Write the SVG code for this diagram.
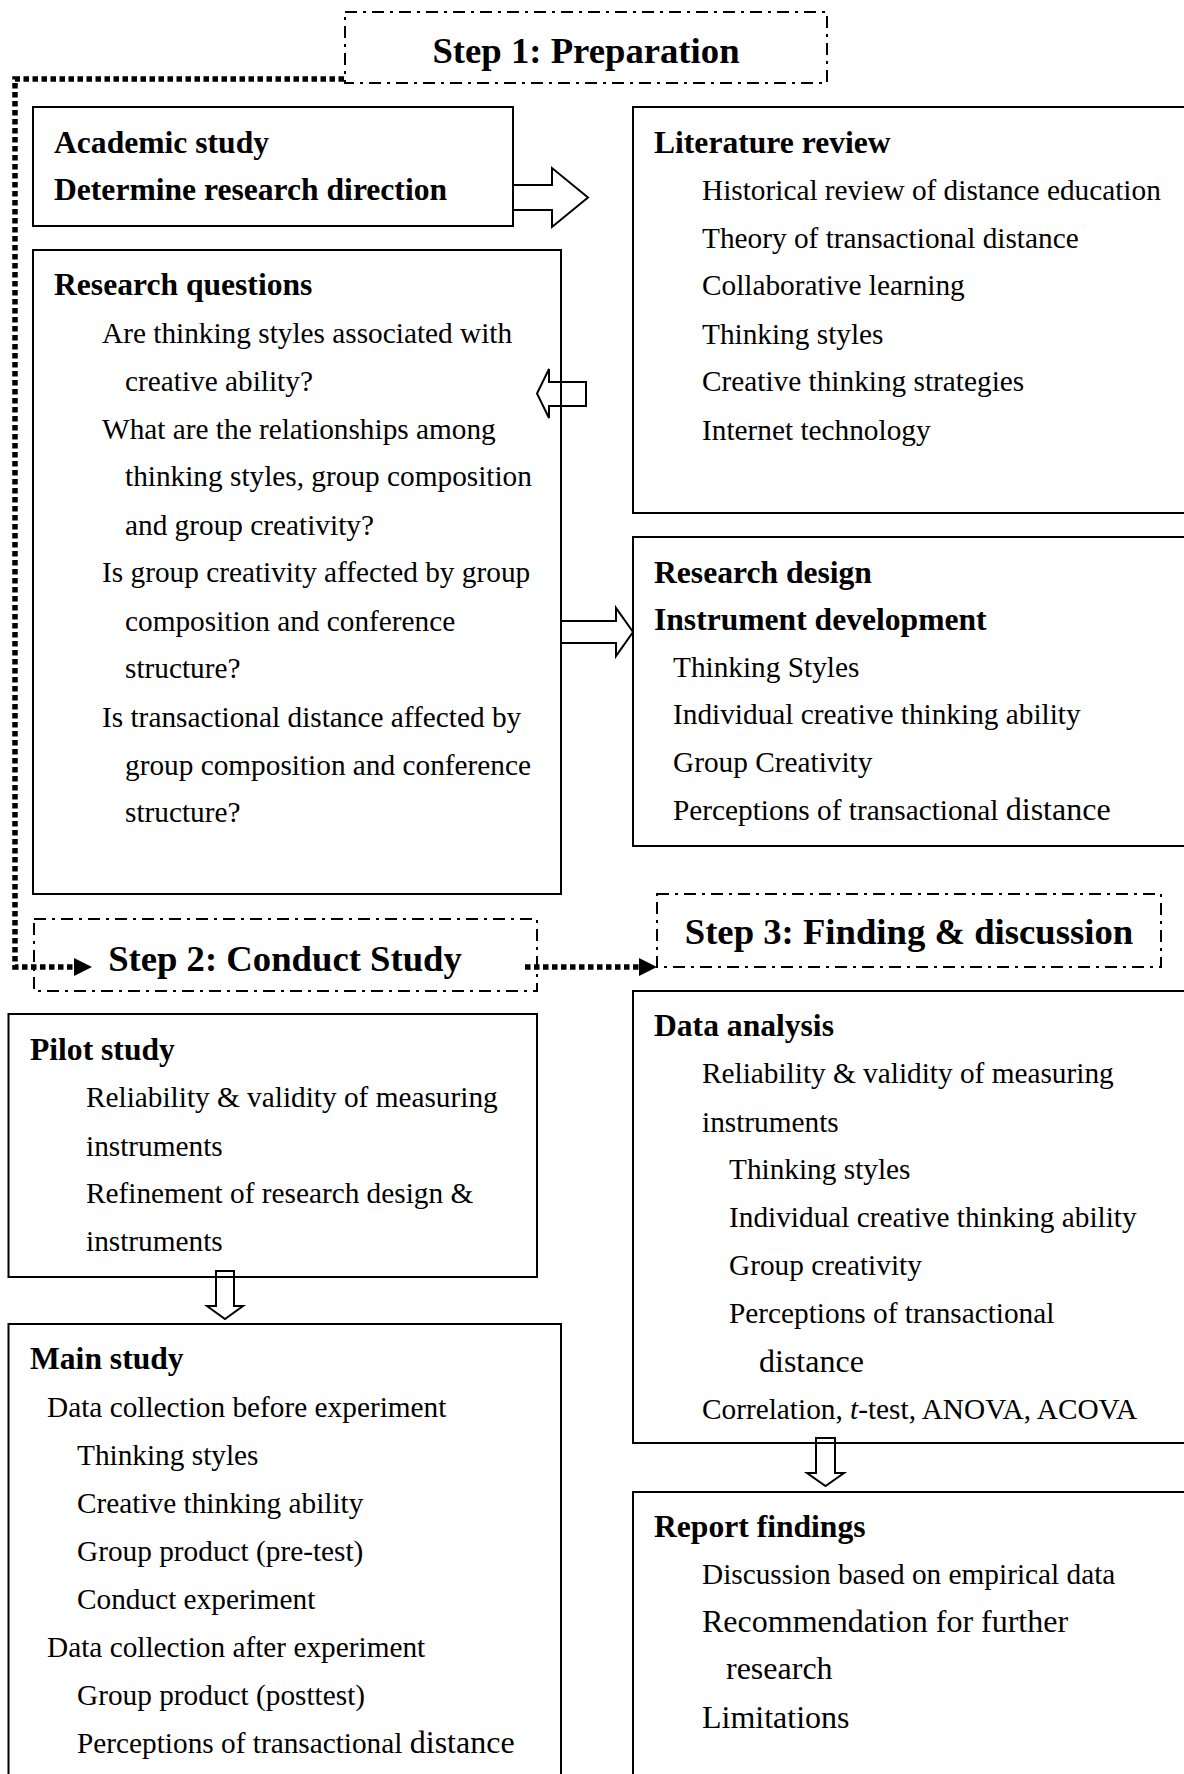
<svg xmlns="http://www.w3.org/2000/svg" width="1184" height="1774" viewBox="0 0 1184 1774">
<defs>
<style>
.box{fill:none;stroke:#000;stroke-width:2}
.step{fill:none;stroke:#000;stroke-width:2;stroke-dasharray:12 6 3 6}
.blk{fill:#fff;stroke:#000;stroke-width:2;stroke-linejoin:miter}
.dot{fill:none;stroke:#000;stroke-width:5.5;stroke-dasharray:5.5 3.5}
text{font-family:"Liberation Serif","Times New Roman",serif;fill:#000}
.r{font-size:29.3px}
.b{font-size:31.6px;font-weight:bold}
.s{font-size:36.7px;font-weight:bold;text-anchor:middle}
.L{font-size:32px}
</style>
</defs>
<rect x="0" y="0" width="1184" height="1774" fill="#fff"/>

<g id="connectors">
<path class="dot" d="M344,79 H15 V967 H74"/>
<path d="M74,958 L92,967 L74,976 Z" fill="#000"/>
<path class="dot" d="M525,967 H640"/>
<path d="M639,958 L657,967 L639,976 Z" fill="#000"/>
<polygon class="blk" points="513,185 552,185 552,168 588,197.5 552,227 552,210 513,210"/>
<polygon class="blk" points="586,382 549,382 549,369 537,393.5 549,418 549,406 586,406"/>
<polygon class="blk" points="561,621 616,621 616,608 633,632 616,656 616,643 561,643"/>
<polygon class="blk" points="216,1271 234,1271 234,1306 243,1306 225,1319 207,1306 216,1306"/>
<polygon class="blk" points="816,1438 835,1438 835,1473 844,1473 825.5,1486 807,1473 816,1473"/>
</g>

<g id="step1">
<rect class="step" x="345" y="12" width="482" height="71"/>
<text class="s" x="586" y="63">Step 1: Preparation</text>
</g>

<g id="academic">
<rect class="box" x="33" y="107" width="480" height="119"/>
<text class="b" x="54" y="153">Academic study</text>
<text class="b" x="54" y="200">Determine research direction</text>
</g>

<g id="questions">
<rect class="box" x="33" y="250" width="528" height="644"/>
<text class="b" x="54" y="295">Research questions</text>
<text class="r" x="102" y="343">Are thinking styles associated with</text>
<text class="r" x="125" y="391">creative ability?</text>
<text class="r" x="102" y="439">What are the relationships among</text>
<text class="r" x="125" y="486">thinking styles, group composition</text>
<text class="r" x="125" y="535">and group creativity?</text>
<text class="r" x="102" y="582">Is group creativity affected by group</text>
<text class="r" x="125" y="631">composition and conference</text>
<text class="r" x="125" y="678">structure?</text>
<text class="r" x="102" y="727">Is transactional distance affected by</text>
<text class="r" x="125" y="775">group composition and conference</text>
<text class="r" x="125" y="822">structure?</text>
</g>

<g id="literature">
<rect class="box" x="633" y="107" width="580" height="406"/>
<text class="b" x="654" y="153">Literature review</text>
<text class="r" x="702" y="200">Historical review of distance education</text>
<text class="r" x="702" y="248">Theory of transactional distance</text>
<text class="r" x="702" y="295">Collaborative learning</text>
<text class="r" x="702" y="344">Thinking styles</text>
<text class="r" x="702" y="391">Creative thinking strategies</text>
<text class="r" x="702" y="440">Internet technology</text>
</g>

<g id="design">
<rect class="box" x="633" y="537" width="580" height="309"/>
<text class="b" x="654" y="583">Research design</text>
<text class="b" x="654" y="630">Instrument development</text>
<text class="r" x="673" y="677">Thinking Styles</text>
<text class="r" x="673" y="724">Individual creative thinking ability</text>
<text class="r" x="673" y="772">Group Creativity</text>
<text class="r" x="673" y="820">Perceptions of transactional <tspan class="L">distance</tspan></text>
</g>

<g id="step2">
<rect class="step" x="34" y="919" width="503" height="72"/>
<text class="s" x="285" y="971">Step 2: Conduct Study</text>
</g>

<g id="step3">
<rect class="step" x="657" y="894" width="504" height="73"/>
<text class="s" x="909" y="944">Step 3: Finding &amp; discussion</text>
</g>

<g id="pilot">
<rect class="box" x="8.5" y="1014" width="528.5" height="263"/>
<text class="b" x="30" y="1060">Pilot study</text>
<text class="r" x="86" y="1107">Reliability &amp; validity of measuring</text>
<text class="r" x="86" y="1156">instruments</text>
<text class="r" x="86" y="1203">Refinement of research design &amp;</text>
<text class="r" x="86" y="1251">instruments</text>
</g>

<g id="main">
<rect class="box" x="8.5" y="1324" width="552.5" height="480"/>
<text class="b" x="30" y="1369">Main study</text>
<text class="r" x="47" y="1417">Data collection before experiment</text>
<text class="r" x="77" y="1465">Thinking styles</text>
<text class="r" x="77" y="1513">Creative thinking ability</text>
<text class="r" x="77" y="1561">Group product (pre-test)</text>
<text class="r" x="77" y="1609">Conduct experiment</text>
<text class="r" x="47" y="1657">Data collection after experiment</text>
<text class="r" x="77" y="1705">Group product (posttest)</text>
<text class="r" x="77" y="1753">Perceptions of transactional <tspan class="L">distance</tspan></text>
</g>

<g id="analysis">
<rect class="box" x="633" y="991" width="580" height="452"/>
<text class="b" x="654" y="1036">Data analysis</text>
<text class="r" x="702" y="1083">Reliability &amp; validity of measuring</text>
<text class="r" x="702" y="1132">instruments</text>
<text class="r" x="729" y="1179">Thinking styles</text>
<text class="r" x="729" y="1227">Individual creative thinking ability</text>
<text class="r" x="729" y="1275">Group creativity</text>
<text class="r" x="729" y="1323">Perceptions of transactional</text>
<text class="L" x="759" y="1372">distance</text>
<text class="r" x="702" y="1419">Correlation, <tspan font-style="italic">t</tspan>-test, ANOVA, ACOVA</text>
</g>

<g id="report">
<rect class="box" x="633" y="1492" width="580" height="320"/>
<text class="b" x="654" y="1537">Report findings</text>
<text class="r" x="702" y="1584">Discussion based on empirical data</text>
<text class="L" x="702" y="1632">Recommendation for further</text>
<text class="L" x="726" y="1679">research</text>
<text class="L" x="702" y="1728">Limitations</text>
</g>
</svg>
